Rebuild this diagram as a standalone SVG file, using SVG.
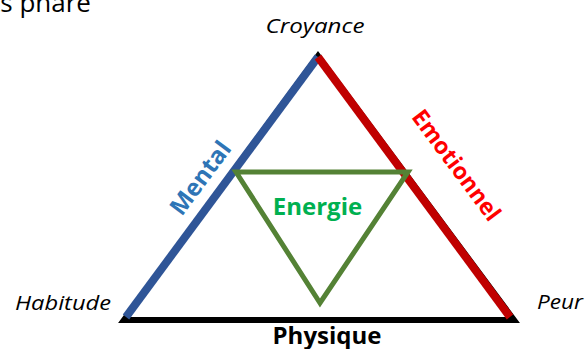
<svg xmlns="http://www.w3.org/2000/svg" width="586" height="349" viewBox="0 0 586 349">
<style>
.it{font-family:"Open Sans","Liberation Sans",Arial,sans-serif;font-style:italic;font-size:20px;fill:#000}
.b{font-family:"Open Sans","Liberation Sans",sans-serif;font-weight:bold}
</style>
<rect width="586" height="349" fill="#fff"/>
<text x="-9" y="12" font-family="Open Sans, Liberation Sans, sans-serif" font-size="26" fill="#000">ts phare</text>
<g id="connectors">
<polygon points="318,56 124,320 514,320" fill="none" stroke="#000" stroke-width="6" stroke-linejoin="miter"/>
<line x1="126" y1="317" x2="318" y2="57" stroke="#2F5597" stroke-width="8"/>
<line x1="318" y1="57" x2="510" y2="317" stroke="#C00000" stroke-width="8"/>
<polygon points="236,172 408,172 320,303" fill="none" stroke="#548235" stroke-width="5"/>
</g>
<g id="croyance"><text class="it" x="315" y="33" text-anchor="middle" textLength="99" lengthAdjust="spacingAndGlyphs">Croyance</text></g>
<g id="habitude"><text class="it" x="63" y="310" text-anchor="middle" textLength="96" lengthAdjust="spacingAndGlyphs">Habitude</text></g>
<g id="peur"><text class="it" x="560" y="309" text-anchor="middle" textLength="46" lengthAdjust="spacingAndGlyphs">Peur</text></g>
<g id="physique"><text class="b" x="327" y="344" text-anchor="middle" font-size="24" fill="#000">Physique</text></g>
<g id="energie"><text class="b" x="317.5" y="215" text-anchor="middle" font-size="24" fill="#00B050">Energie</text></g>
<g id="mental"><text class="b" transform="translate(207,183) rotate(-53.4)" text-anchor="middle" font-size="24" fill="#2E75B6">Mental</text></g>
<g id="emotionnel"><text class="b" transform="translate(450,170) rotate(53.4)" text-anchor="middle" font-size="23" fill="#FF0000">Emotionnel</text></g>
</svg>
